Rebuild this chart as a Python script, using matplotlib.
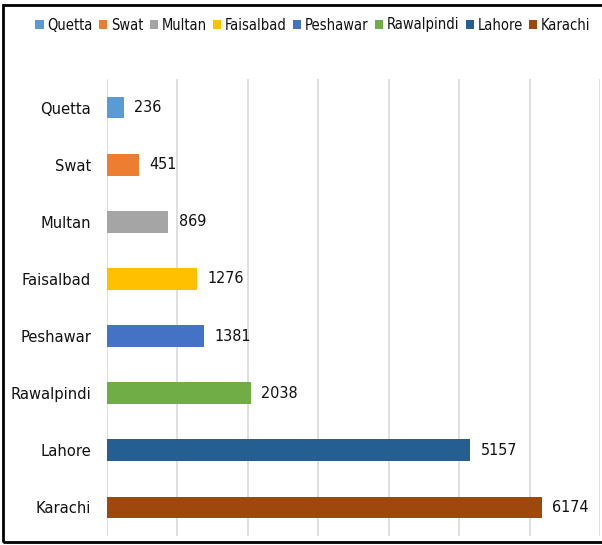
import matplotlib.pyplot as plt
from matplotlib.patches import Rectangle

# cities, top to bottom as shown
cities = ['Quetta', 'Swat', 'Multan', 'Faisalbad', 'Peshawar', 'Rawalpindi', 'Lahore', 'Karachi']
counts = [236, 451, 869, 1276, 1381, 2038, 5157, 6174]
colors = ['#5B9BD5', '#ED7D31', '#A5A5A5', '#FFC000', '#4472C4', '#70AD47', '#255E91', '#9E480E']

plt.rcParams['font.family'] = ['DejaVu Sans']
plt.rcParams['font.stretch'] = 'condensed'

fig = plt.figure(figsize=(6.02, 5.45), dpi=100)
ax = fig.add_axes([107 / 602, 1 - 536 / 545, 493 / 602, 457 / 545])

for i, (city, n, c) in enumerate(zip(cities, counts, colors)):
    ax.barh(i, n, height=0.38, color=c, label=city, zorder=3)
    ax.text(n + 150, i, str(n), va='center', ha='left', fontsize=11.5,
            color='#111111', stretch='condensed')

ax.set_xlim(0, 7000)
ax.set_ylim(len(cities) - 0.5, -0.5)
ax.set_yticks(range(len(cities)))
ax.set_yticklabels(cities, fontsize=11.8, color='#111111', stretch='condensed')
ax.set_xticks(range(0, 7001, 1000))
ax.set_xticklabels([])
ax.tick_params(length=0)
ax.tick_params(axis='y', pad=11.5)
ax.grid(axis='x', color='#D9D9D9', linewidth=1.2, zorder=0)
for s in ax.spines.values():
    s.set_visible(False)

fig.legend(loc='center', bbox_to_anchor=(313 / 602, 1 - 25 / 545), ncol=8,
           frameon=False, prop={'size': 10.5, 'stretch': 'condensed'},
           labelcolor='#111111', handlelength=0.55, handleheight=0.55,
           handletextpad=0.25, columnspacing=0.45, borderpad=0)

fig.add_artist(Rectangle((3 / 602, 1 - 542 / 545), 1.0, 537 / 545,
                         transform=fig.transFigure, fill=False,
                         edgecolor='black', linewidth=2))

fig.savefig('out.png', dpi=100)
